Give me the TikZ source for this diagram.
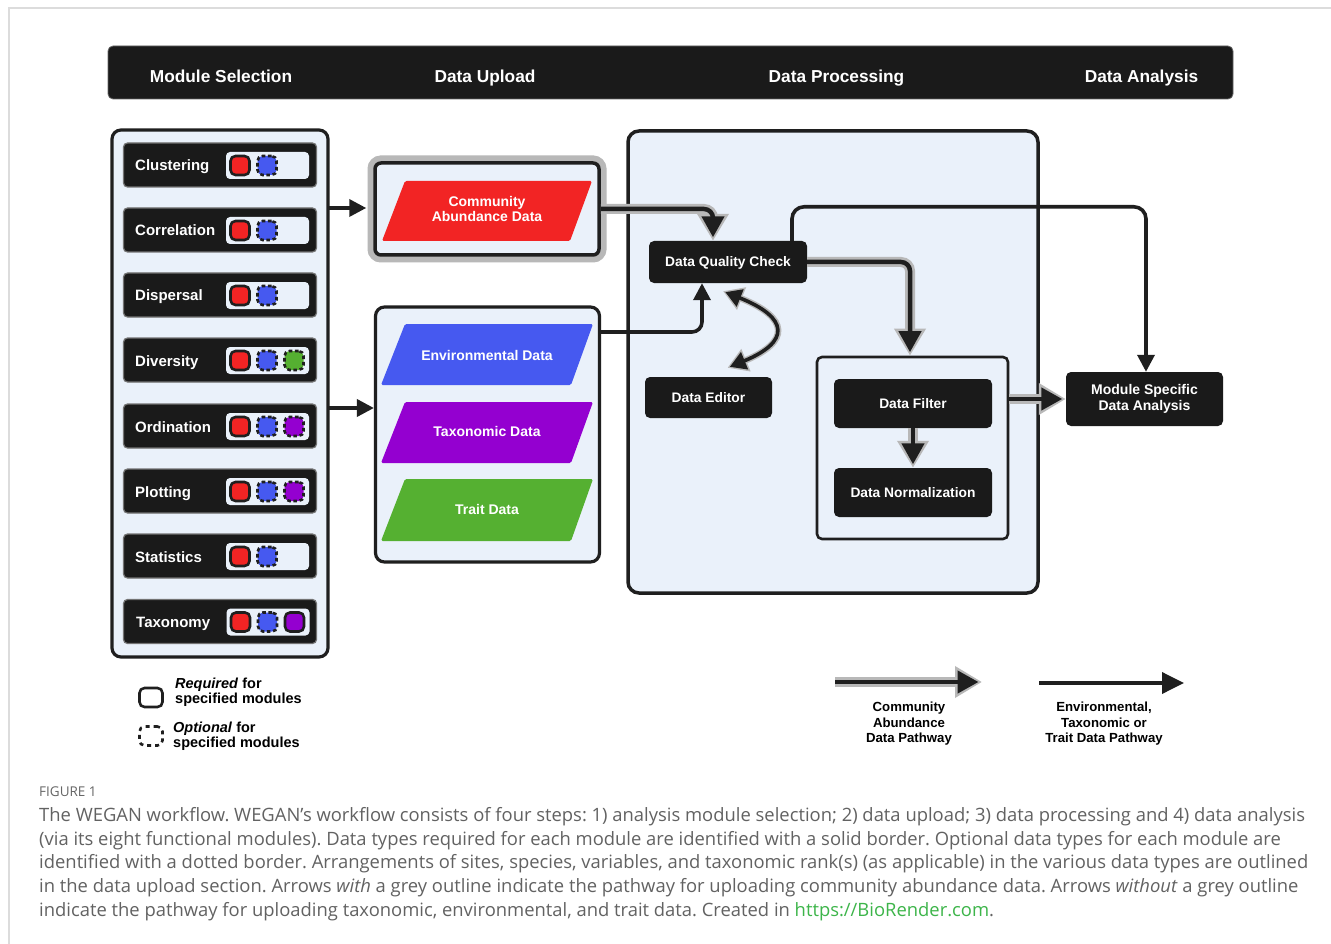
\documentclass[tikz,border=0pt]{standalone}
\usepackage{fontspec}
\setmainfont{Liberation Sans}
\newfontfamily\capfont{Open Sans}
\usetikzlibrary{arrows.meta,calc}
\frenchspacing
\definecolor{panelbg}{HTML}{EAF1FA}
\definecolor{boxblk}{HTML}{1A1A1A}
\definecolor{lineblk}{HTML}{1F1F1F}
\definecolor{pathgrey}{HTML}{B8B8B8}
\definecolor{framegrey}{HTML}{DCDCDC}
\definecolor{dred}{HTML}{F22424}
\definecolor{dblue}{HTML}{4659F0}
\definecolor{dpurple}{HTML}{9400D0}
\definecolor{dgreen}{HTML}{55B031}
\definecolor{capgrey}{HTML}{626262}
\definecolor{figgrey}{HTML}{666666}
\definecolor{linkgreen}{HTML}{3DB54A}
\tikzset{
 hdrbar/.style={fill=boxblk, draw=black!60, line width=0.8pt, rounded corners=5pt, minimum width=1125pt, minimum height=53pt, inner sep=0pt},
 hdrtxt/.style={text=white, font=\fontsize{17.3}{20}\selectfont\bfseries, inner sep=0pt, anchor=base},
 panel/.style={fill=panelbg, draw=lineblk, line width=3.2pt, rounded corners=9pt, inner sep=0pt},
 modbox/.style={fill=boxblk, draw=black!55, line width=1.2pt, rounded corners=4pt, minimum width=193pt, minimum height=44pt, inner sep=0pt},
 modtxt/.style={text=white, font=\fontsize{15}{18}\selectfont\bfseries, anchor=base west, inner sep=0pt},
 chipbox/.style={fill=panelbg, rounded corners=4pt, minimum width=83pt, minimum height=27pt, inner sep=0pt},
 req/.style={draw=lineblk, line width=2.6pt, rounded corners=5pt, minimum width=19pt, minimum height=19pt, inner sep=0pt},
 opt/.style={req, dash pattern=on 3.6pt off 2.6pt},
 dtxt/.style={text=white, font=\fontsize{14}{15}\selectfont\bfseries, align=center, inner sep=0pt},
 procnode/.style={fill=boxblk, rounded corners=5pt, text=white, font=\fontsize{13.8}{15}\selectfont\bfseries, align=center, inner sep=0pt},
 oneline/.style={text height=9.9pt, text depth=0pt},
 blkarrow/.style={draw=lineblk, line width=3.6pt, -{Triangle[length=17pt,width=17pt]}},
 commgrey/.style={draw=pathgrey, line width=10pt, rounded corners=9pt, -{Triangle[length=27pt,width=30pt]}},
 commblack/.style={draw=lineblk, line width=4.5pt, rounded corners=9pt, -{Triangle[length=21pt,width=22pt]}, shorten >=3.5pt},
 legtxt/.style={font=\fontsize{14.5}{15}\selectfont\bfseries, align=left, anchor=west, inner sep=0pt},
 legtxtc/.style={font=\fontsize{13.2}{15.5}\selectfont\bfseries, align=center, inner sep=0pt},
 capline/.style={font=\capfont\fontsize{18.4}{20}\selectfont, text=capgrey, anchor=base west, inner sep=0pt},
}
\begin{document}
\begin{tikzpicture}[x=1pt,y=-1pt]
\useasboundingbox (0,0) rectangle (1331,944);
\fill[white] (0,0) rectangle (1331,944);
\draw[framegrey, line width=1.5pt] (9,944) -- (9,8) -- (1331,8);

% header
\node[hdrbar] (hdr) at (670.5,72.5) {};
\node[hdrtxt] (h1) at (221,83) {Module Selection};
\node[hdrtxt] (h2) at (485,83) {Data Upload};
\node[hdrtxt] (h3) at (836.5,83) {Data Processing};
\node[hdrtxt] (h4) at (1141.5,83) {Data Analysis};

% module panel
\node[panel, minimum width=216pt, minimum height=527pt] (modpanel) at (220,393.5) {};

\node[modbox] (m1) at (220,165) {};
\node[modtxt] (m1t) at (135,171) {Clustering};
\node[chipbox] (m1c) at (267.5,165.5) {};
\node[req, fill=dred] (m1r) at (240,165.5) {};
\node[opt, fill=dblue] (m1b) at (267,165.5) {};

\node[modbox] (m2) at (220,230) {};
\node[modtxt] (m2t) at (135,236) {Correlation};
\node[chipbox] (m2c) at (267.5,230.5) {};
\node[req, fill=dred] (m2r) at (240,230.5) {};
\node[opt, fill=dblue] (m2b) at (267,230.5) {};

\node[modbox] (m3) at (220,295) {};
\node[modtxt] (m3t) at (135,301) {Dispersal};
\node[chipbox] (m3c) at (267.5,295.5) {};
\node[req, fill=dred] (m3r) at (240,295.5) {};
\node[opt, fill=dblue] (m3b) at (267,295.5) {};

\node[modbox] (m4) at (220,360) {};
\node[modtxt] (m4t) at (135,366) {Diversity};
\node[chipbox] (m4c) at (267.5,360.5) {};
\node[req, fill=dred] (m4r) at (240,360.5) {};
\node[opt, fill=dblue] (m4b) at (267,360.5) {};
\node[opt, fill=dgreen] (m4g) at (294,360.5) {};

\node[modbox] (m5) at (220,426) {};
\node[modtxt] (m5t) at (135,432) {Ordination};
\node[chipbox] (m5c) at (267.5,426.5) {};
\node[req, fill=dred] (m5r) at (240,426.5) {};
\node[opt, fill=dblue] (m5b) at (267,426.5) {};
\node[opt, fill=dpurple] (m5p) at (294,426.5) {};

\node[modbox] (m6) at (220,491) {};
\node[modtxt] (m6t) at (135,497) {Plotting};
\node[chipbox] (m6c) at (267.5,491.5) {};
\node[req, fill=dred] (m6r) at (240,491.5) {};
\node[opt, fill=dblue] (m6b) at (267,491.5) {};
\node[opt, fill=dpurple] (m6p) at (294,491.5) {};

\node[modbox] (m7) at (220,556) {};
\node[modtxt] (m7t) at (135,562) {Statistics};
\node[chipbox] (m7c) at (267.5,556.5) {};
\node[req, fill=dred] (m7r) at (240,556.5) {};
\node[opt, fill=dblue] (m7b) at (267,556.5) {};

\node[modbox] (m8) at (220,621.5) {};
\node[modtxt] (m8t) at (136,627.5) {Taxonomy};
\node[chipbox] (m8c) at (268,622) {};
\node[req, fill=dred] (m8r) at (240.5,622) {};
\node[opt, fill=dblue] (m8b) at (267.5,622) {};
\node[req, fill=dpurple] (m8p) at (294.5,622) {};

% data upload
\node[panel, line width=3.5pt, rounded corners=6pt, minimum width=224pt, minimum height=92pt,
      preaction={draw=pathgrey, line width=15pt, rounded corners=6pt}] (cab) at (487,209) {};
\fill[dred, rounded corners=1.5pt] (405,181) -- (592,181) -- (570,241) -- (382,241) -- cycle;
\node[dtxt] (cabt) at (487,209) {Community\\Abundance Data};

\node[panel, minimum width=224pt, minimum height=255pt] (upbox) at (487.5,434.5) {};
\fill[dblue, rounded corners=1.5pt] (405,324) -- (593,324) -- (571,385) -- (381,385) -- cycle;
\node[dtxt] (envt) at (487,355.5) {Environmental Data};
\fill[dpurple, rounded corners=1.5pt] (405,402) -- (593,402) -- (571,463) -- (381,463) -- cycle;
\node[dtxt] (taxt) at (487,431.5) {Taxonomic Data};
\fill[dgreen, rounded corners=1.5pt] (405,479) -- (593,479) -- (571,541) -- (381,541) -- cycle;
\node[dtxt] (trt) at (487,509.5) {Trait Data};

\coordinate (a1) at (328,208);
\coordinate (a2) at (328,408);
\draw[blkarrow] (a1) -- ([xshift=-7pt]cab.west |- a1);
\draw[blkarrow] (a2) -- (upbox.west |- a2);

% data processing
\node[panel, line width=3.5pt, rounded corners=11pt, minimum width=410pt, minimum height=462pt] (procpanel) at (833,362) {};
\node[procnode, oneline, minimum width=158pt, minimum height=42pt] (dqc) at (728,262) {Data Quality Check};
\node[procnode, oneline, minimum width=127pt, minimum height=41pt] (de) at (708.5,397.5) {Data Editor};
\node[panel, line width=2.6pt, rounded corners=5pt, minimum width=191pt, minimum height=182pt] (pbox) at (912.5,448) {};
\node[procnode, oneline, minimum width=158pt, minimum height=49pt] (df) at (913,403.5) {Data Filter};
\node[procnode, oneline, minimum width=158pt, minimum height=49pt] (dn) at (913,492.5) {Data Normalization};
\node[procnode, minimum width=157pt, minimum height=54pt, font=\fontsize{14}{15.5}\selectfont\bfseries] (msda) at (1144.5,399) {Module Specific\\Data Analysis};

% community pathway arrows (grey outline)
\draw[commgrey] (cab.east) -| ([xshift=-15pt]dqc.north);
\draw[commblack] (cab.east) -| ([xshift=-15pt]dqc.north);
\draw[commgrey] (dqc.east) -| ([xshift=-2.5pt]pbox.north);
\draw[commblack] (dqc.east) -| ([xshift=-2.5pt]pbox.north);
\draw[commgrey] (pbox.east |- msda.west) -- (msda.west);
\draw[commblack] (pbox.east |- msda.west) -- (msda.west);
\draw[commgrey] (df.south) -- (dn.north);
\draw[commblack] (df.south) -- (dn.north);

% other pathway arrows
\draw[blkarrow, rounded corners=10pt] ([shift={(0,-102.5)}]upbox.east) -| ([xshift=-26pt]dqc.south);
\draw[blkarrow, rounded corners=12pt] ([xshift=64pt]dqc.north) |- ([shift={(1.5,-165)}]msda.north) -- ([xshift=1.5pt]msda.north);

% data editor double arrow
\draw[draw=pathgrey, line width=6.5pt, {Triangle[length=20pt,width=23pt]}-{Triangle[length=20pt,width=23pt]}]
  ([shift={(-5,8)}]dqc.south) .. controls (790,318) and (790,342) .. ([shift={(19,-9)}]de.north);
\draw[draw=lineblk, line width=3.6pt, {Triangle[length=16pt,width=18pt]}-{Triangle[length=16pt,width=18pt]}, shorten <=2.5pt, shorten >=2.5pt]
  ([shift={(-5,8)}]dqc.south) .. controls (790,318) and (790,342) .. ([shift={(19,-9)}]de.north);

% legend left
\node[req, minimum width=23pt, minimum height=19pt] (lreq) at (151,697.5) {};
\node[legtxt] (lreqt) at (175,692.5) {\textit{Required} for\\specified modules};
\node[opt, minimum width=23pt, minimum height=19pt, dash pattern=on 4pt off 4pt] (lopt) at (151,736) {};
\node[legtxt] (loptt) at (173,736.5) {\textit{Optional} for\\specified modules};

% legend right
\coordinate (l1s) at (835,682);
\coordinate (l1e) at (982,682);
\draw[commgrey] (l1s) -- (l1e);
\draw[commblack] (l1s) -- (l1e);
\node[legtxtc] (l1t) at (909,724) {Community\\Abundance\\Data Pathway};
\coordinate (l2s) at (1039,683);
\coordinate (l2e) at (1184,683);
\draw[draw=lineblk, line width=3.6pt, -{Triangle[length=22pt,width=21pt]}] (l2s) -- (l2e);
\node[legtxtc] (l2t) at (1104,724) {Environmental,\\Taxonomic or\\Trait Data Pathway};

% caption
\node[font=\capfont\fontsize{13.5}{15}\selectfont, text=figgrey, anchor=base west, inner sep=0pt] (fig) at (39,796.5) {FIGURE 1};
\node[capline] (c1) at (39,821) {The WEGAN workflow. WEGAN’s workflow consists of four steps: 1) analysis module selection; 2) data upload; 3) data processing and 4) data analysis};
\node[capline] (c2) at (39,845) {(via its eight functional modules). Data types required for each module are identified with a solid border. Optional data types for each module are};
\node[capline] (c3) at (39,868.5) {identified with a dotted border. Arrangements of sites, species, variables, and taxonomic rank(s) (as applicable) in the various data types are outlined};
\node[capline] (c4) at (39,892) {in the data upload section. Arrows \textit{with} a grey outline indicate the pathway for uploading community abundance data. Arrows \textit{without} a grey outline};
\node[capline] (c5) at (39,916) {indicate the pathway for uploading taxonomic, environmental, and trait data. Created in \textcolor{linkgreen}{https://BioRender.com}.};
\end{tikzpicture}
\end{document}
